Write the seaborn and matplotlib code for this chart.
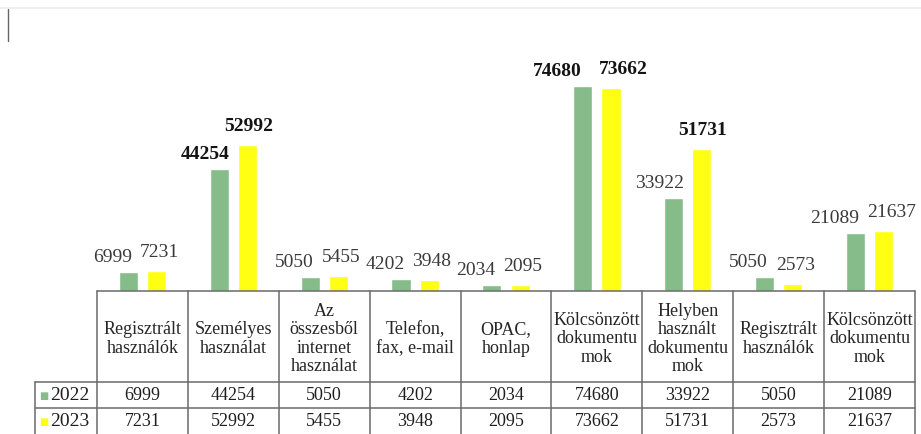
import matplotlib
matplotlib.use("Agg")
import matplotlib.pyplot as plt
import matplotlib.transforms as mtransforms
from matplotlib.lines import Line2D
import seaborn as sns
import pandas as pd

# ---- data ----
categories = [
    "Regisztrált\nhasználók",
    "Személyes\nhasználat",
    "Az\nösszesből\ninternet\nhasználat",
    "Telefon,\nfax, e-mail",
    "OPAC,\nhonlap",
    "Kölcsönzött\ndokumentu\nmok",
    "Helyben\nhasznált\ndokumentu\nmok",
    "Regisztrált\nhasználók ",
    "Kölcsönzött\ndokumentu\nmok ",
]
years = ["2022", "2023"]
values_2022 = [6999, 44254, 5050, 4202, 2034, 74680, 33922, 5050, 21089]
values_2023 = [7231, 52992, 5455, 3948, 2095, 73662, 51731, 2573, 21637]

colors = {"2022": "#86bb8a", "2023": "#ffff14"}

df = pd.DataFrame({
    "cat": categories * 2,
    "year": [years[0]] * len(categories) + [years[1]] * len(categories),
    "value": values_2022 + values_2023,
})

W, H = 921, 435
sns.set_theme(style="white")
plt.rcParams["font.family"] = ["Liberation Serif", "DejaVu Serif"]

fig = plt.figure(figsize=(W / 100, H / 100), dpi=100)
fig.patch.set_facecolor("white")

x0, x1 = 97, 915
y_base, y_top = 292, 72
ax = fig.add_axes([x0 / W, 1 - y_base / H, (x1 - x0) / W, (y_base - y_top) / H])

sns.barplot(data=df, x="cat", y="value", hue="year", order=categories,
            hue_order=years, palette=colors, width=0.62, gap=0.32,
            saturation=1, legend=False, ax=ax)

ax.set_xlim(-0.5, len(categories) - 0.5)
ax.set_ylim(0, 80000)
ax.set_xlabel("")
ax.set_ylabel("")
ax.set_xticks([])
ax.set_yticks([])
for s in ax.spines.values():
    s.set_visible(False)
ax.patch.set_alpha(0)

# ---- data labels (offsets in pixels, converted to points) ----
px2pt = 72 / 100
ppd_y = (y_base - y_top) / 80000.0          # pixels per data unit (y)
label_fs = 14
c22, c23 = ax.containers[0], ax.containers[1]
for b1, b2 in zip(c22, c23):
    v1, v2 = b1.get_height(), b2.get_height()
    big1, big2 = v1 > 40000, v2 > 40000
    dx1, dx2 = -14.0, 1.0
    dy1, dy2 = 7.0, 11.0
    em = label_fs / px2pt
    w1 = len(str(int(v1))) * 0.5 * em
    w2 = len(str(int(v2))) * 0.5 * em
    cx1 = b1.get_x() + b1.get_width() / 2
    cx2 = b2.get_x() + b2.get_width() / 2
    sep_bars = (cx2 - cx1) * (x1 - x0) / len(categories)
    y1p = v1 * ppd_y + dy1
    y2p = v2 * ppd_y + dy2
    if abs(y1p - y2p) < em:  # labels on roughly the same line
        need = (w1 + w2) / 2 + (18 if (big1 or big2) else 8)
        have = sep_bars + dx2 - dx1
        if have < need:
            extra = (need - have) / 2
            dx1 -= extra
            dx2 += extra
    for b, v, dx, dy, big in ((b1, v1, dx1, dy1, big1), (b2, v2, dx2, dy2, big2)):
        ax.annotate(f"{int(round(v))}",
                    (b.get_x() + b.get_width() / 2, v),
                    xytext=(dx * px2pt, dy * px2pt), textcoords="offset points",
                    ha="center", va="bottom", fontsize=label_fs,
                    fontweight="bold" if big else "normal",
                    color="#141414" if big else "#3a3a3a",
                    annotation_clip=False)

# ---- data table ----
def fy(px):
    return 1 - px / H

blend = mtransforms.blended_transform_factory(ax.transData, fig.transFigure)
line_kw = dict(color="#6a6a6a", lw=1.1)

row_top = y_base
row_h_end = 383
row1_end = 409
row2_end = 436
label_left = 35

n = len(categories)
fig.add_artist(Line2D([x0 / W, x1 / W], [fy(row_top)] * 2, transform=fig.transFigure, **line_kw))
for yy in (row_h_end, row1_end, row2_end):
    fig.add_artist(Line2D([label_left / W, x1 / W], [fy(yy)] * 2, transform=fig.transFigure, **line_kw))
for k in range(n + 1):
    xb = k - 0.5
    fig.add_artist(Line2D([xb, xb], [fy(row_top), fy(row2_end)], transform=blend, **line_kw))
fig.add_artist(Line2D([label_left / W] * 2, [fy(row_h_end), fy(row2_end)], transform=fig.transFigure, **line_kw))

for k, c in enumerate(categories):
    fig.text(k, fy(339), c.strip(), transform=blend, ha="center", va="center",
             fontsize=13, color="#262626", linespacing=1.1)

for vals, yc in [(values_2022, 396), (values_2023, 422)]:
    for k, v in enumerate(vals):
        fig.text(k, fy(yc), f"{v}", transform=blend, ha="center", va="center",
                 fontsize=13, color="#1e1e1e")

for yr, yc in [(years[0], 396), (years[1], 422)]:
    fig.text(44 / W, fy(yc), "■", transform=fig.transFigure, ha="center", va="center",
             fontsize=7, color=colors[yr], family="DejaVu Sans")
    fig.text(70 / W, fy(yc), yr, transform=fig.transFigure, ha="center", va="center",
             fontsize=14, color="#1e1e1e")

# faint outer frame remnants from the scan
fig.add_artist(Line2D([0, 1], [fy(9)] * 2, transform=fig.transFigure, color="#ececec", lw=1.2))
fig.add_artist(Line2D([8 / W] * 2, [fy(10), fy(42)], transform=fig.transFigure, color="#666666", lw=1.0))

fig.savefig("out.png", dpi=100, facecolor="white")
